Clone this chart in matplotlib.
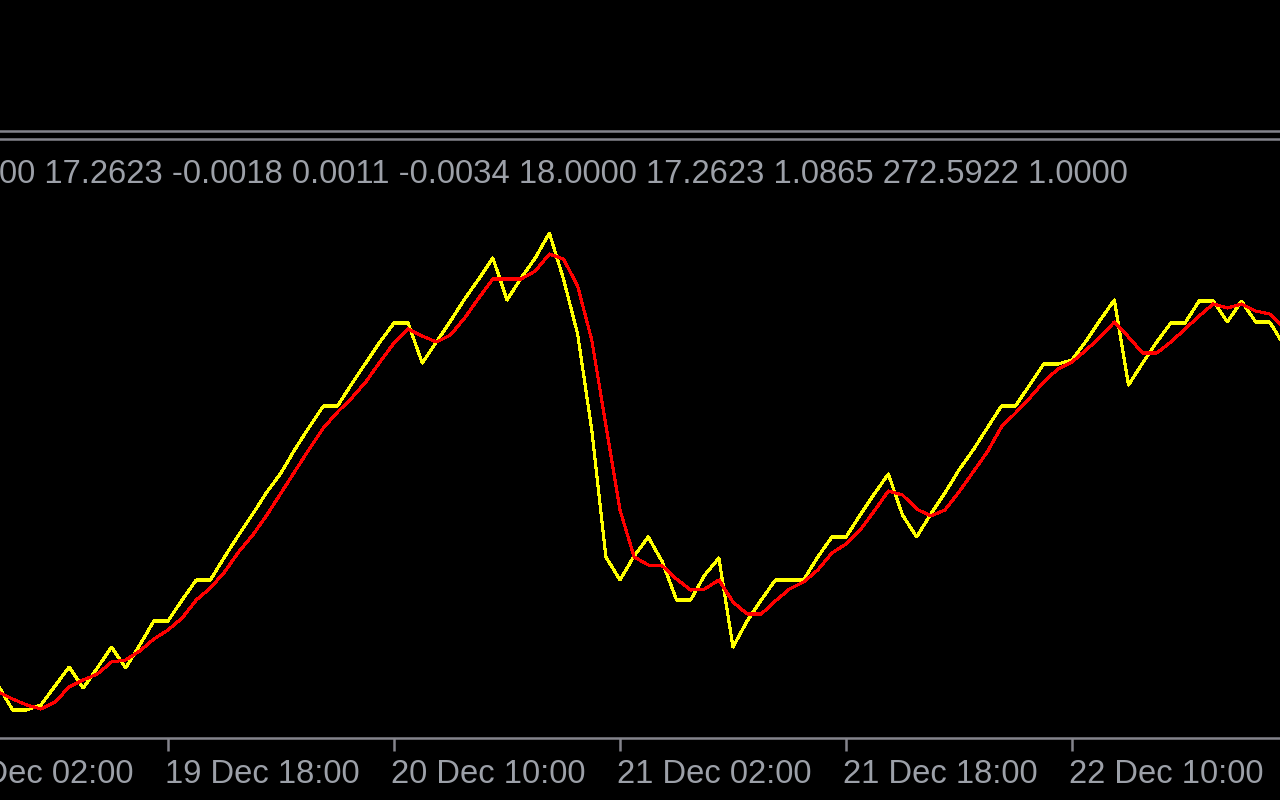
import matplotlib
matplotlib.use('Agg')
import matplotlib.pyplot as plt
from matplotlib.lines import Line2D
from matplotlib.transforms import ScaledTranslation, blended_transform_factory
import numpy as np

# hourly bars, hour 0 = 19 Dec 18:00
hours = np.arange(-12, 80)

fast_line = [34, 10, 10, 15, 34, 53, 32, 52, 73, 52,
             75, 99, 99, 120, 140, 140, 163, 185, 206, 228,
             247, 271, 293, 314, 314, 336, 357, 378, 397, 397,
             357, 378, 399, 421, 441, 462, 420, 442, 462, 487,
             441, 386, 290, 163, 140, 164, 183, 158, 120, 120,
             145, 162, 73, 99, 120, 140, 140, 140, 163, 183,
             183, 205, 226, 246, 205, 183, 206, 227, 250, 270,
             292, 314, 314, 335, 356, 356, 360, 379, 400, 420,
             335, 357, 378, 397, 397, 419, 419, 398, 419, 398,
             398, 375]

slow_line = [28, 21, 15, 11, 18, 33, 40, 46, 58, 60,
             69, 81, 90, 102, 120, 132, 148, 168, 185, 205,
             227, 249, 271, 292, 308, 322, 338, 358, 377, 391,
             384, 378, 385, 402, 422, 441, 441, 441, 449, 466,
             461, 434, 380, 295, 210, 163, 155, 154, 141, 130,
             131, 140, 118, 106, 106, 119, 131, 138, 150, 167,
             176, 190, 209, 229, 225, 211, 204, 210, 228, 248,
             268, 293, 307, 322, 338, 351, 358, 370, 383, 398,
             383, 367, 367, 378, 391, 404, 416, 412, 416, 409,
             406, 392]

tick_hours = [-16, 0, 16, 32, 48, 64]
tick_labels = ['19 Dec 02:00', '19 Dec 18:00', '20 Dec 10:00',
               '21 Dec 02:00', '21 Dec 18:00', '22 Dec 10:00']

header = '00 17.2623 -0.0018 0.0011 -0.0034 18.0000 17.2623 1.0865 272.5922 1.0000'

grey = '#84848c'
text_grey = '#9ca0a8'
font = 'Liberation Sans'
fsize = 23.6

W, H = 1280, 800
fig = plt.figure(figsize=(12.8, 8), dpi=100, facecolor='black')
ax = fig.add_axes([0, (H - 738) / H, 1, (738 - 139) / H])
ax.set_facecolor('black')

ax.plot(hours, slow_line, color='#ff0000', linewidth=1.5, antialiased=False)
ax.plot(hours, fast_line, color='#ffff00', linewidth=1.5, antialiased=False, zorder=1.9)

for side in ['left', 'right']:
    ax.spines[side].set_visible(False)
for side in ['top', 'bottom']:
    ax.spines[side].set_color(grey)
    ax.spines[side].set_linewidth(1.8)
ax.set_yticks([])
ax.set_xticks(tick_hours)
ax.tick_params(axis='x', direction='out', length=9, width=1.8, color=grey,
               labelbottom=False)

# limits after the ticks, so the ticks do not widen the view
ax.set_xlim(-168 / 14.125, (W - 168) / 14.125)
ax.set_ylim(720 - 738, 720 - 139)

# left aligned date labels under the ticks
trans = blended_transform_factory(ax.transData, ax.transAxes)
shift = ScaledTranslation(-3 / 100, 0, fig.dpi_scale_trans)
for h, lab in zip(tick_hours, tick_labels):
    ax.text(h, -(783 - 738) / (738 - 139), lab, transform=trans + shift,
            ha='left', va='baseline', color=text_grey, fontsize=fsize,
            family=font, clip_on=False)

# separator line above the indicator window
fig.add_artist(Line2D([0, 1], [1 - 131 / H, 1 - 131 / H], color=grey, linewidth=1.8))

fig.text(-1 / W, 1 - 183 / H, header, ha='left', va='baseline',
         color=text_grey, fontsize=fsize, family=font)

fig.savefig('out.png', dpi=100, facecolor='black')
